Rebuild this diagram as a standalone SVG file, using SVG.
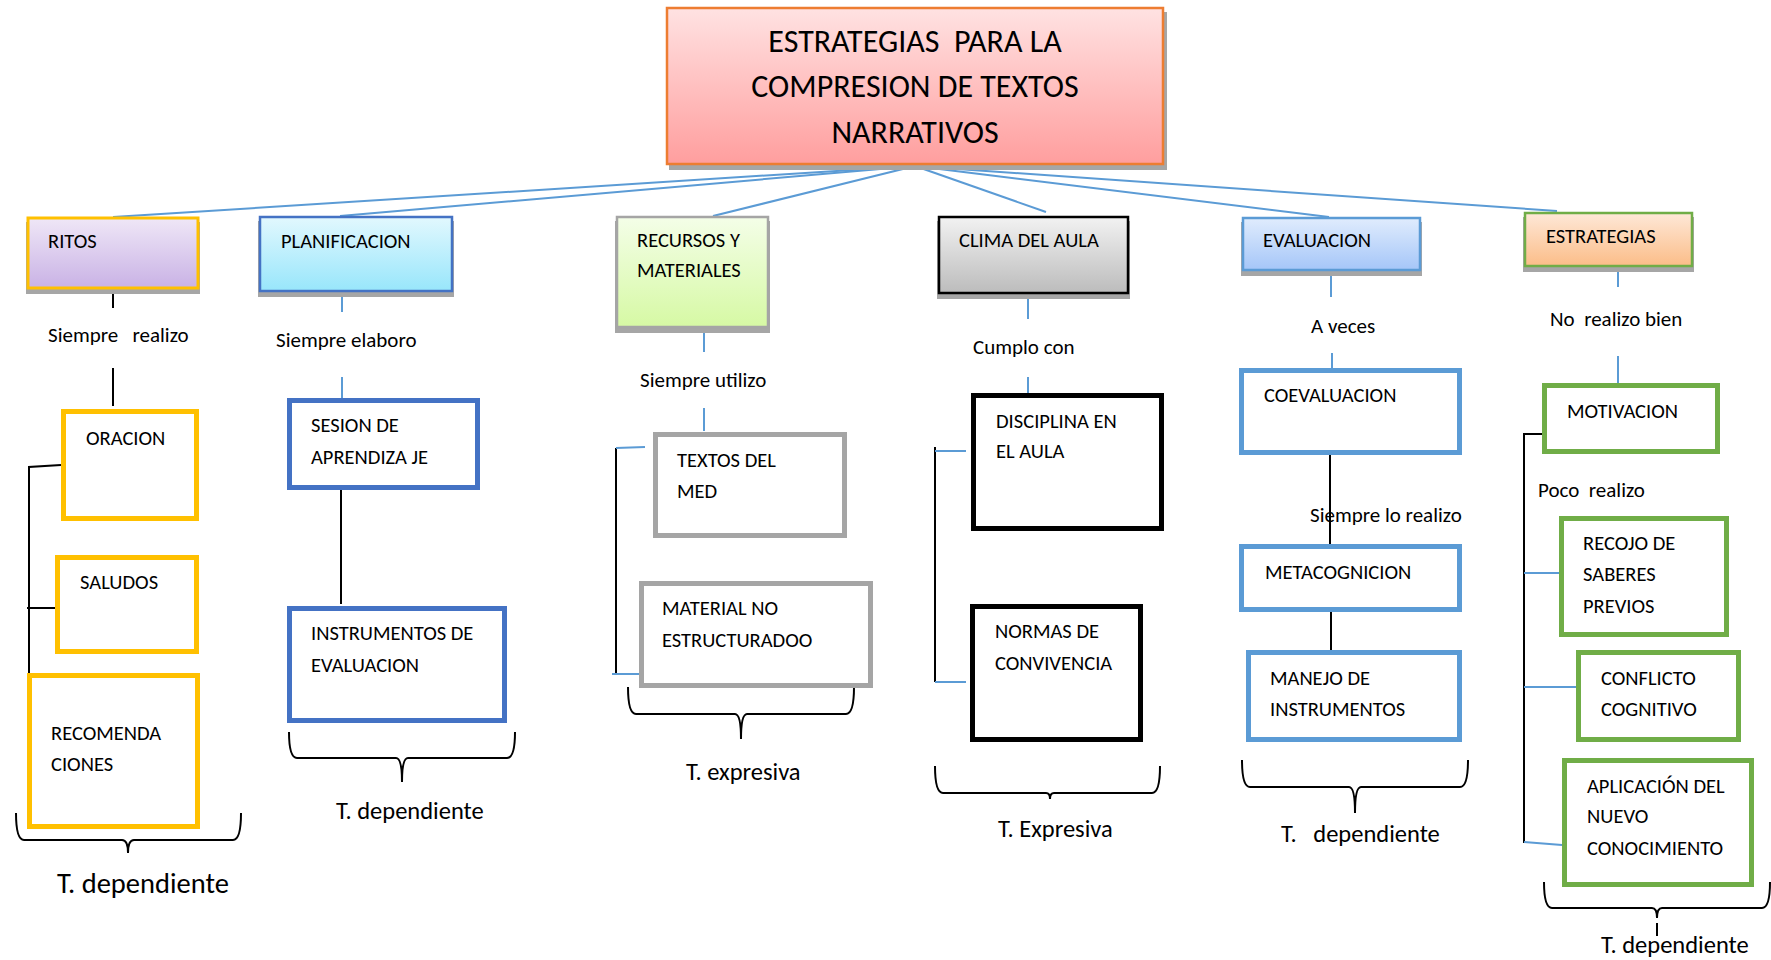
<svg xmlns="http://www.w3.org/2000/svg" width="1771" height="960" viewBox="0 0 1771 960">
<defs>
<linearGradient id="gTitle" x1="0" y1="0" x2="0" y2="1"><stop offset="0" stop-color="#ffe2e2"/><stop offset="1" stop-color="#ff9e9e"/></linearGradient>
<linearGradient id="gRitos" x1="0" y1="0" x2="0" y2="1"><stop offset="0" stop-color="#efe7f7"/><stop offset="1" stop-color="#c9b2e5"/></linearGradient>
<linearGradient id="gPlan" x1="0" y1="0" x2="0" y2="1"><stop offset="0" stop-color="#e2f8fe"/><stop offset="1" stop-color="#98e6fb"/></linearGradient>
<linearGradient id="gRec" x1="0" y1="0" x2="0" y2="1"><stop offset="0" stop-color="#f4fee8"/><stop offset="1" stop-color="#d6f9a4"/></linearGradient>
<linearGradient id="gClima" x1="0" y1="0" x2="0" y2="1"><stop offset="0" stop-color="#f2f2f2"/><stop offset="1" stop-color="#bcbcbc"/></linearGradient>
<linearGradient id="gEval" x1="0" y1="0" x2="0" y2="1"><stop offset="0" stop-color="#e0ecfd"/><stop offset="1" stop-color="#a5c6f8"/></linearGradient>
<linearGradient id="gEst" x1="0" y1="0" x2="0" y2="1"><stop offset="0" stop-color="#fee8d8"/><stop offset="1" stop-color="#fbbd88"/></linearGradient>
</defs>
<style>
text{font-family:Carlito,Calibri,Lato,"Open Sans",sans-serif;fill:#000;}
.t{font-size:20.5px;}
.l{font-size:21px;}
.ti{font-size:32px;}
.td{font-size:24.5px;}
.sh{fill:#a6a6a6;}
.box{fill:#fff;stroke-width:5;}
.blue{stroke:#5b9bd5;stroke-width:2;fill:none;}
.blk{stroke:#000;stroke-width:2;fill:none;}
.br{stroke:#000;stroke-width:2;fill:none;}
</style>
<rect width="1771" height="960" fill="#fff"/>

<g id="connectors">
<line class="blue" x1="915" y1="166" x2="113" y2="217"/>
<line class="blue" x1="915" y1="166" x2="340" y2="216"/>
<line class="blue" x1="915" y1="166" x2="713" y2="216"/>
<line class="blue" x1="915" y1="166" x2="1046" y2="212"/>
<line class="blue" x1="915" y1="166" x2="1329" y2="217"/>
<line class="blue" x1="915" y1="166" x2="1557" y2="211"/>
<line class="blk" x1="113" y1="290" x2="113" y2="308"/>
<line class="blk" x1="113" y1="368" x2="113" y2="406"/>
<polyline class="blk" points="61,465 29,467 29,673"/>
<line class="blk" x1="27" y1="608" x2="55" y2="608"/>
<line class="blue" x1="342" y1="294" x2="342" y2="312"/>
<line class="blue" x1="342" y1="377" x2="342" y2="398"/>
<line class="blk" x1="341" y1="490" x2="341" y2="604"/>
<line class="blue" x1="704" y1="332" x2="704" y2="352"/>
<line class="blue" x1="704" y1="408" x2="704" y2="431"/>
<line class="blk" x1="616" y1="448" x2="616" y2="674"/>
<line class="blue" x1="616" y1="448" x2="645" y2="447"/>
<line class="blue" x1="612" y1="674" x2="639" y2="674"/>
<line class="blue" x1="1028" y1="297" x2="1028" y2="319"/>
<line class="blue" x1="1028" y1="377" x2="1028" y2="393"/>
<line class="blk" x1="935" y1="447" x2="935" y2="682"/>
<line class="blue" x1="935" y1="451" x2="966" y2="451"/>
<line class="blue" x1="935" y1="682" x2="966" y2="682"/>
<line class="blue" x1="1331" y1="272" x2="1331" y2="297"/>
<line class="blue" x1="1332" y1="353" x2="1332" y2="368"/>
<line class="blk" x1="1330" y1="448" x2="1330" y2="544"/>
<line class="blk" x1="1331" y1="612" x2="1331" y2="651"/>
<line class="blue" x1="1618" y1="267" x2="1618" y2="287"/>
<line class="blue" x1="1618" y1="356" x2="1618" y2="383"/>
<polyline class="blk" points="1544,434 1524,434 1524,843"/>
<line class="blue" x1="1524" y1="573" x2="1559" y2="573"/>
<line class="blue" x1="1524" y1="687" x2="1576" y2="687"/>
<line class="blue" x1="1524" y1="842" x2="1562" y2="845"/>
<path class="br" d="M16,813 Q16,840 24,840 H122 Q128,840 128,853 Q128,840 134,840 H233 Q241,840 241,813"/>
<path class="br" d="M289,732 Q289,758 297,758 H396 Q402,758 402,782 Q402,758 408,758 H507 Q515,758 515,732"/>
<path class="br" d="M628,687 Q628,714 636,714 H735 Q741,714 741,739 Q741,714 747,714 H846 Q854,714 854,687"/>
<path class="br" d="M935,766 Q935,793 943,793 H1046 Q1050,793 1050,799 Q1050,793 1054,793 H1152 Q1160,793 1160,766"/>
<path class="br" d="M1242,760 Q1242,787 1250,787 H1349 Q1355,787 1355,813 Q1355,787 1361,787 H1460 Q1468,787 1468,760"/>
<path class="br" d="M1544,882 Q1544,908 1552,908 H1652 Q1657,908 1657,918 Q1657,908 1662,908 H1762 Q1770,908 1770,882"/>
<line class="br" x1="1657" y1="923" x2="1657" y2="936"/>
</g>

<g id="title">
<rect class="sh" x="669" y="12" width="498" height="158"/>
<rect x="667" y="8" width="496" height="156" fill="url(#gTitle)" stroke="#ed7d31" stroke-width="2.5"/>
<text class="ti" x="915" y="52" text-anchor="middle" xml:space="preserve">ESTRATEGIAS  PARA LA</text>
<text class="ti" x="915" y="97" text-anchor="middle">COMPRESION DE TEXTOS</text>
<text class="ti" x="915" y="143" text-anchor="middle">NARRATIVOS</text>
</g>

<g id="ritos">
<rect class="sh" x="26" y="222" width="174" height="72"/>
<rect x="28" y="218" width="170" height="70" fill="url(#gRitos)" stroke="#ffc000" stroke-width="3"/>
<text class="t" x="48" y="248">RITOS</text>
</g>
<text id="lbl-ritos" class="l" x="48" y="342" xml:space="preserve">Siempre   realizo</text>
<g id="oracion"><rect class="box" stroke="#ffc000" x="63.5" y="411.5" width="133" height="107"/><text class="t" x="86" y="445">ORACION</text></g>
<g id="saludos"><rect class="box" stroke="#ffc000" x="57.5" y="557.5" width="139" height="94"/><text class="t" x="80" y="589">SALUDOS</text></g>
<g id="recomendaciones"><rect class="box" stroke="#ffc000" x="29.5" y="675.5" width="168" height="151"/><text class="t" x="51" y="740">RECOMENDA</text><text class="t" x="51" y="771">CIONES</text></g>
<text id="td-ritos" x="57" y="893" style="font-size:28.5px">T. dependiente</text>

<g id="planificacion">
<rect class="sh" x="258" y="221" width="196" height="76"/>
<rect x="260" y="217" width="192" height="74" fill="url(#gPlan)" stroke="#4472c4" stroke-width="2.5"/>
<text class="t" x="281" y="248">PLANIFICACION</text>
</g>
<text id="lbl-plan" class="l" x="276" y="347">Siempre elaboro</text>
<g id="sesion"><rect class="box" stroke="#4472c4" x="289.5" y="400.5" width="188" height="87"/><text class="t" x="311" y="432">SESION DE</text><text class="t" x="311" y="464">APRENDIZA JE</text></g>
<g id="instrumentos"><rect class="box" stroke="#4472c4" x="289.5" y="608.5" width="215" height="112"/><text class="t" x="311" y="640">INSTRUMENTOS DE</text><text class="t" x="311" y="672">EVALUACION</text></g>
<text id="td-plan" class="td" x="336" y="819">T. dependiente</text>

<g id="recursos">
<rect class="sh" x="615" y="221" width="155" height="112"/>
<rect x="617" y="217" width="151" height="110" fill="url(#gRec)" stroke="#a5a5a5" stroke-width="2.5"/>
<text class="t" x="637" y="247">RECURSOS Y</text>
<text class="t" x="637" y="277">MATERIALES</text>
</g>
<text id="lbl-rec" class="l" x="640" y="387">Siempre utilizo</text>
<g id="textos"><rect class="box" stroke="#a5a5a5" x="655.5" y="434.5" width="189" height="101"/><text class="t" x="677" y="467">TEXTOS DEL</text><text class="t" x="677" y="498">MED</text></g>
<g id="material"><rect class="box" stroke="#a5a5a5" x="641.5" y="583.5" width="229" height="102"/><text class="t" x="662" y="615">MATERIAL NO</text><text class="t" x="662" y="647">ESTRUCTURADOO</text></g>
<text id="td-rec" class="td" x="686" y="780">T. expresiva</text>

<g id="clima">
<rect class="sh" x="937" y="221" width="193" height="78"/>
<rect x="939" y="217" width="189" height="76" fill="url(#gClima)" stroke="#000" stroke-width="2.5"/>
<text class="t" x="959" y="247">CLIMA DEL AULA</text>
</g>
<text id="lbl-clima" class="l" x="973" y="354">Cumplo con</text>
<g id="disciplina"><rect class="box" stroke="#000" x="973.5" y="395.5" width="188" height="133"/><text class="t" x="996" y="428">DISCIPLINA EN</text><text class="t" x="996" y="458">EL AULA</text></g>
<g id="normas"><rect class="box" stroke="#000" x="972.5" y="606.5" width="168" height="133"/><text class="t" x="995" y="638">NORMAS DE</text><text class="t" x="995" y="670">CONVIVENCIA</text></g>
<text id="td-clima" class="td" x="998" y="837">T. Expresiva</text>

<g id="evaluacion">
<rect class="sh" x="1241" y="222" width="181" height="54"/>
<rect x="1243" y="218" width="177" height="52" fill="url(#gEval)" stroke="#5b9bd5" stroke-width="2.5"/>
<text class="t" x="1263" y="247">EVALUACION</text>
</g>
<text id="lbl-eval" class="l" x="1311" y="333">A veces</text>
<g id="coevaluacion"><rect class="box" stroke="#5b9bd5" x="1241.5" y="370.5" width="218" height="82"/><text class="t" x="1264" y="402">COEVALUACION</text></g>
<text id="lbl-eval2" class="l" x="1310" y="522">Siempre lo realizo</text>
<g id="metacognicion"><rect class="box" stroke="#5b9bd5" x="1241.5" y="546.5" width="218" height="63"/><text class="t" x="1265" y="579">METACOGNICION</text></g>
<g id="manejo"><rect class="box" stroke="#5b9bd5" x="1248.5" y="652.5" width="211" height="87"/><text class="t" x="1270" y="685">MANEJO DE</text><text class="t" x="1270" y="716">INSTRUMENTOS</text></g>
<text id="td-eval" class="td" x="1281" y="842" xml:space="preserve">T.   dependiente</text>

<g id="estrategias">
<rect class="sh" x="1523" y="217" width="171" height="55"/>
<rect x="1525" y="213" width="167" height="53" fill="url(#gEst)" stroke="#70ad47" stroke-width="2.5"/>
<text class="t" x="1546" y="243">ESTRATEGIAS</text>
</g>
<text id="lbl-est" class="l" x="1550" y="326" xml:space="preserve">No  realizo bien</text>
<g id="motivacion"><rect class="box" stroke="#70ad47" x="1544.5" y="385.5" width="173" height="66"/><text class="t" x="1567" y="418">MOTIVACION</text></g>
<text id="lbl-est2" class="l" x="1538" y="497" xml:space="preserve">Poco  realizo</text>
<g id="recojo"><rect class="box" stroke="#70ad47" x="1561.5" y="518.5" width="165" height="116"/><text class="t" x="1583" y="550">RECOJO DE</text><text class="t" x="1583" y="581">SABERES</text><text class="t" x="1583" y="613">PREVIOS</text></g>
<g id="conflicto"><rect class="box" stroke="#70ad47" x="1578.5" y="652.5" width="160" height="87"/><text class="t" x="1601" y="685">CONFLICTO</text><text class="t" x="1601" y="716">COGNITIVO</text></g>
<g id="aplicacion"><rect class="box" stroke="#70ad47" x="1564.5" y="760.5" width="187" height="124"/><text class="t" x="1587" y="793">APLICACIÓN DEL</text><text class="t" x="1587" y="823">NUEVO</text><text class="t" x="1587" y="855">CONOCIMIENTO</text></g>
<text id="td-est" class="td" x="1601" y="953">T. dependiente</text>
</svg>
